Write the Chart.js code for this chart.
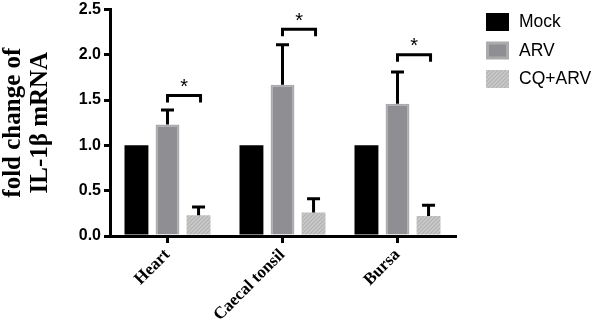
<!DOCTYPE html>
<html lang="en">
<head>
<meta charset="UTF-8" />
<title>IL-1β fold change</title>
<script src="https://cdn.jsdelivr.net/npm/chart.js"></script>
<style>
  html, body { margin: 0; padding: 0; background: #fff; }
  #wrap { width: 596px; height: 323px; }
</style>
</head>
<body>
<div id="wrap"><canvas id="chart" width="596" height="323"></canvas></div>
<script>
const categories = ['Heart', 'Caecal tonsil', 'Bursa'];
const seriesNames = ['Mock', 'ARV', 'CQ+ARV'];
const mockValues = [1.0, 1.0, 1.0];
const arvValues = [1.23, 1.67, 1.46];
const arvErrors = [0.16, 0.44, 0.35];
const cqValues = [0.23, 0.26, 0.22];
const cqErrors = [0.09, 0.15, 0.12];
const sigLevels = [1.55, 2.28, 2.0];   // height of the * brackets
const yTicks = [0, 0.5, 1.0, 1.5, 2.0, 2.5];

// hatched fill for CQ+ARV
function makeHatch() {
    const c = document.createElement('canvas');
    c.width = 4; c.height = 4;
    const g = c.getContext('2d');
    g.fillStyle = '#c9c9c9';
    g.fillRect(0, 0, 4, 4);
    g.strokeStyle = '#b2b2b2';
    g.lineWidth = 1.2;
    g.beginPath();
    g.moveTo(0, 4); g.lineTo(4, 0);
    g.moveTo(-1, 1); g.lineTo(1, -1);
    g.moveTo(3, 5); g.lineTo(5, 3);
    g.stroke();
    return g.createPattern(c, 'repeat');
}
const hatch = makeHatch();

const errorBars = {
    id: 'errorBars',
    afterDatasetsDraw(chart) {
        const ctx = chart.ctx;
        const y = chart.scales.y;
        chart.data.datasets.forEach((ds, i) => {
            if (!ds.errors) return;
            chart.getDatasetMeta(i).data.forEach((bar, j) => {
                const top = y.getPixelForValue(ds.data[j] + ds.errors[j]);
                ctx.save();
                ctx.strokeStyle = '#000';
                ctx.lineWidth = 3;
                ctx.beginPath();
                ctx.moveTo(bar.x, bar.y);
                ctx.lineTo(bar.x, top);
                ctx.moveTo(bar.x - 6.5, top);
                ctx.lineTo(bar.x + 6.5, top);
                ctx.stroke();
                ctx.restore();
            });
        });
    }
};

const sigBrackets = {
    id: 'sigBrackets',
    afterDatasetsDraw(chart) {
        const ctx = chart.ctx;
        const y = chart.scales.y;
        const a = chart.getDatasetMeta(1).data;
        const b = chart.getDatasetMeta(2).data;
        sigLevels.forEach((lvl, j) => {
            const py = y.getPixelForValue(lvl);
            const x1 = a[j].x, x2 = b[j].x + 2;
            ctx.save();
            ctx.strokeStyle = '#000';
            ctx.lineWidth = 3;
            ctx.beginPath();
            ctx.moveTo(x1, py + 7);
            ctx.lineTo(x1, py);
            ctx.lineTo(x2, py);
            ctx.lineTo(x2, py + 7);
            ctx.stroke();
            ctx.fillStyle = '#000';
            ctx.font = '20px "Liberation Sans", Arial, sans-serif';
            ctx.textAlign = 'center';
            ctx.textBaseline = 'middle';
            ctx.fillText('*', (x1 + x2) / 2, py - 8);
            ctx.restore();
        });
    }
};

// legend drawn at the right of the plot
const sideLegend = {
    id: 'sideLegend',
    afterDraw(chart) {
        const ctx = chart.ctx;
        const x0 = chart.chartArea.right + 31;
        chart.data.datasets.forEach((ds, i) => {
            const top = 13 + i * 28.5;
            ctx.save();
            ctx.fillStyle = ds.borderWidth ? ds.borderColor : ds.backgroundColor;
            ctx.fillRect(x0, top, 23, 18);
            if (ds.borderWidth) {
                ctx.fillStyle = ds.backgroundColor;
                ctx.fillRect(x0 + 3, top + 3, 17, 12);
            }
            ctx.fillStyle = '#000';
            ctx.font = '17.5px "Liberation Sans", Arial, sans-serif';
            ctx.textBaseline = 'middle';
            ctx.fillText(ds.label, x0 + 33, top + 9.5);
            ctx.restore();
        });
    }
};

new Chart(document.getElementById('chart'), {
    type: 'bar',
    data: {
        labels: categories,
        datasets: [
            { label: seriesNames[0], data: mockValues, backgroundColor: '#000000', borderWidth: 0 },
            { label: seriesNames[1], data: arvValues, errors: arvErrors, backgroundColor: '#8f8f93', borderColor: '#ababad', borderWidth: 2 },
            { label: seriesNames[2], data: cqValues, errors: cqErrors, backgroundColor: hatch, borderWidth: 0 }
        ]
    },
    options: {
        responsive: false,
        animation: false,
        devicePixelRatio: 1,
        categoryPercentage: 0.81,
        barPercentage: 0.77,
        layout: { padding: { left: 0, right: 141, top: 0, bottom: 0 } },
        plugins: { legend: { display: false }, tooltip: { enabled: false } },
        scales: {
            x: {
                offset: true,
                grid: { display: true, drawOnChartArea: false, offset: false, tickLength: 7, lineWidth: 3, color: '#000' },
                border: { display: true, width: 3, color: '#000' },
                ticks: {
                    color: '#000', maxRotation: 45, minRotation: 45, padding: 2,
                    font: { family: '"Liberation Serif", "Times New Roman", serif', size: 17, weight: 'bold' }
                },
                afterFit(scale) { scale.height = 87; }
            },
            y: {
                min: 0, max: 2.5,
                afterBuildTicks(scale) { scale.ticks = yTicks.map(v => ({ value: v })); },
                grid: { display: true, drawOnChartArea: false, tickLength: 6, lineWidth: 3, color: '#000' },
                border: { display: true, width: 3, color: '#000' },
                ticks: {
                    color: '#000', padding: 3,
                    font: { family: '"Liberation Sans", Arial, sans-serif', size: 16, weight: 'bold', lineHeight: 0.8 },
                    callback: v => v.toFixed(1)
                },
                title: {
                    display: true,
                    text: ['fold change of', 'IL-1β mRNA'],
                    color: '#000',
                    padding: { top: 0, bottom: 0 },
                    font: { family: '"Liberation Serif", "Times New Roman", serif', size: 25, weight: 'bold', lineHeight: 1.08 }
                },
                afterFit(scale) { scale.width = 110; }
            }
        }
    },
    plugins: [errorBars, sigBrackets, sideLegend]
});
</script>
</body>
</html>
